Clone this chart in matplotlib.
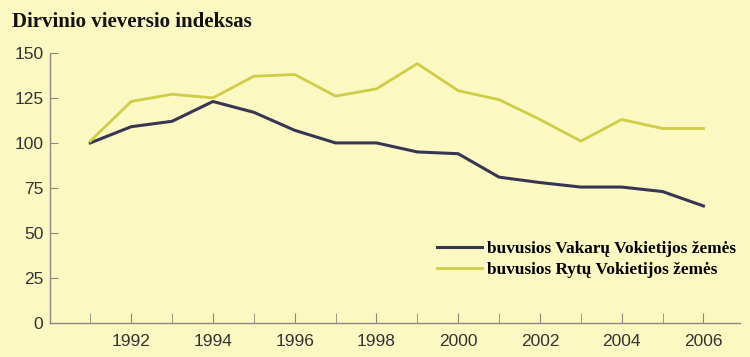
import matplotlib.pyplot as plt

years = list(range(1991, 2007))
west = [100, 109, 112, 123, 117, 107, 100, 100, 95, 94, 81, 78, 75.5, 75.5, 73, 65]
east = [101, 123, 127, 125, 137, 138, 126, 130, 144, 129, 124, 113, 101, 113, 108, 108]
label_years = list(range(1992, 2007, 2))
yticks = [0, 25, 50, 75, 100, 125, 150]

bg = '#fbf8c2'
fig = plt.figure(figsize=(7.5, 3.57), dpi=100, facecolor=bg)
ax = fig.add_axes([0.067, 0.095, 0.92, 0.757], facecolor=bg)

ax.plot(years, west, color='#363654', lw=2.2, label='buvusios Vakarų Vokietijos žemės')
ax.plot(years, east, color='#d0cc48', lw=2.0, label='buvusios Rytų Vokietijos žemės')

ax.set_xlim(1990.02, 2006.9)
ax.set_ylim(0, 150)
ax.set_xticks(label_years)
ax.set_xticks(years, minor=True)
ax.set_yticks(yticks)

for s in ['top', 'right']:
    ax.spines[s].set_visible(False)
for s in ['left', 'bottom']:
    ax.spines[s].set_color('#8a8a80')
    ax.spines[s].set_linewidth(1.0)
    ax.spines[s].set_linestyle((0, (2, 1)))

ax.tick_params(axis='x', which='both', direction='in', length=7, color='#8a8a80',
               labelsize=12.5, labelcolor='#333333', pad=8)
ax.tick_params(axis='y', direction='in', length=6, color='#8a8a80',
               labelsize=12.5, labelcolor='#333333', pad=5)
for lab in ax.get_xticklabels() + ax.get_yticklabels():
    lab.set_fontfamily('Liberation Sans')

fig.text(0.016, 0.925, 'Dirvinio vieversio indeksas', fontsize=15, fontweight='bold',
         family='Liberation Serif', color='#111111')

leg = ax.legend(loc='upper left', bbox_to_anchor=(0.561, 0.305), frameon=False,
                borderpad=0, borderaxespad=0,
                handlelength=2.6, handletextpad=0.3, labelspacing=0.3,
                prop={'family': 'Liberation Serif', 'weight': 'bold', 'size': 12.4})

plt.savefig('out.png', dpi=100, facecolor=bg)
